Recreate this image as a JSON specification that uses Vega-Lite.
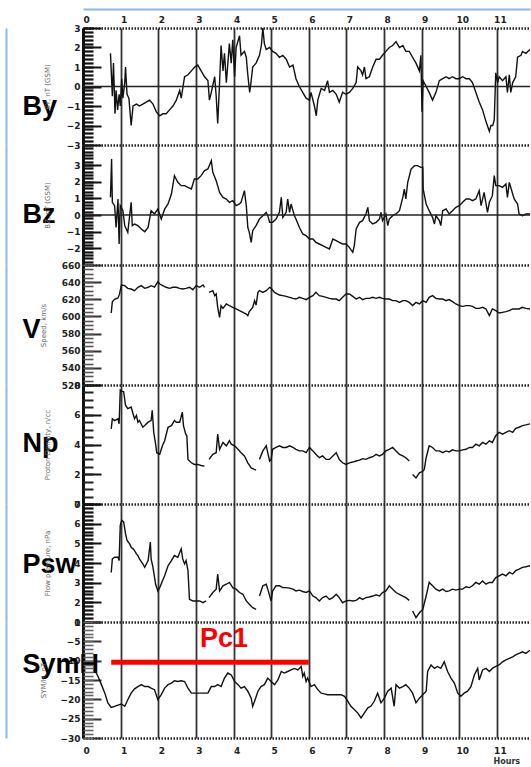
{
"$schema": "https://vega.github.io/schema/vega-lite/v6.json",
"background": "white",
"padding": {"left": 6, "top": 9, "right": 0, "bottom": 0},
"config": {"view": {"stroke": null}, "axis": {"labelFlush": false, "labelOverlap": false, "labelBound": false}},
"spacing": 0,
"bounds": "flush",
"datasets": {
"by": [{"t":0.73,"v":1.7},{"t":0.78,"v":-0.5},{"t":0.81,"v":1.2},{"t":0.85,"v":-1.4},{"t":0.88,"v":-0.2},{"t":0.92,"v":-1.2},{"t":0.96,"v":-0.4},{"t":0.99,"v":-1.0},{"t":1.03,"v":0.4},{"t":1.06,"v":-0.6},{"t":1.11,"v":0.2},{"t":1.13,"v":1.0},{"t":1.17,"v":-0.4},{"t":1.22,"v":-0.6},{"t":1.28,"v":-2.0},{"t":1.33,"v":-1.0},{"t":1.42,"v":-0.9},{"t":1.50,"v":-1.0},{"t":1.59,"v":-0.9},{"t":1.68,"v":-0.8},{"t":1.77,"v":-0.7},{"t":1.86,"v":-0.9},{"t":1.95,"v":-1.3},{"t":2.04,"v":-1.5},{"t":2.12,"v":-1.4},{"t":2.21,"v":-1.4},{"t":2.30,"v":-1.2},{"t":2.39,"v":-1.0},{"t":2.48,"v":-0.7},{"t":2.57,"v":-0.2},{"t":2.61,"v":-0.6},{"t":2.70,"v":0.5},{"t":2.79,"v":0.6},{"t":2.88,"v":0.8},{"t":2.97,"v":1.0},{"t":3.05,"v":1.1},{"t":3.14,"v":0.8},{"t":3.23,"v":0.5},{"t":3.32,"v":0.3},{"t":3.36,"v":-0.7},{"t":3.41,"v":-0.3},{"t":3.50,"v":0.5},{"t":3.54,"v":-0.5},{"t":3.58,"v":-1.9},{"t":3.63,"v":0.2},{"t":3.67,"v":2.1},{"t":3.72,"v":0.8},{"t":3.76,"v":1.7},{"t":3.81,"v":0.2},{"t":3.89,"v":2.2},{"t":3.94,"v":1.2},{"t":3.98,"v":2.4},{"t":4.03,"v":0.5},{"t":4.07,"v":2.0},{"t":4.16,"v":2.6},{"t":4.20,"v":1.6},{"t":4.29,"v":1.8},{"t":4.34,"v":1.5},{"t":4.38,"v":0.6},{"t":4.43,"v":-0.3},{"t":4.47,"v":0.3},{"t":4.51,"v":1.0},{"t":4.60,"v":1.2},{"t":4.69,"v":1.6},{"t":4.74,"v":2.1},{"t":4.78,"v":3.0},{"t":4.82,"v":2.2},{"t":4.87,"v":1.9},{"t":4.96,"v":2.0},{"t":5.04,"v":1.8},{"t":5.13,"v":1.7},{"t":5.22,"v":1.5},{"t":5.31,"v":1.6},{"t":5.40,"v":1.4},{"t":5.49,"v":1.0},{"t":5.58,"v":1.1},{"t":5.66,"v":0.4},{"t":5.75,"v":0.0},{"t":5.84,"v":-0.3},{"t":5.93,"v":-0.6},{"t":6.02,"v":-0.7},{"t":6.06,"v":-0.3},{"t":6.15,"v":-1.0},{"t":6.20,"v":-1.5},{"t":6.24,"v":-0.7},{"t":6.33,"v":-0.1},{"t":6.42,"v":-0.2},{"t":6.50,"v":0.3},{"t":6.55,"v":-0.3},{"t":6.64,"v":-0.2},{"t":6.73,"v":-0.4},{"t":6.81,"v":-0.8},{"t":6.90,"v":-0.3},{"t":6.99,"v":-0.4},{"t":7.08,"v":-0.3},{"t":7.17,"v":-0.1},{"t":7.26,"v":0.2},{"t":7.30,"v":1.0},{"t":7.39,"v":0.8},{"t":7.43,"v":0.6},{"t":7.48,"v":1.0},{"t":7.52,"v":0.4},{"t":7.61,"v":0.5},{"t":7.70,"v":1.0},{"t":7.79,"v":1.4},{"t":7.88,"v":1.4},{"t":7.96,"v":1.6},{"t":8.05,"v":1.8},{"t":8.14,"v":2.0},{"t":8.23,"v":2.1},{"t":8.32,"v":2.3},{"t":8.41,"v":2.0},{"t":8.50,"v":2.1},{"t":8.58,"v":1.8},{"t":8.67,"v":1.8},{"t":8.76,"v":1.5},{"t":8.85,"v":1.2},{"t":8.94,"v":0.8},{"t":8.98,"v":1.6},{"t":9.01,"v":-1.3},{"t":9.04,"v":0.3},{"t":9.12,"v":0.0},{"t":9.20,"v":-0.3},{"t":9.29,"v":-0.7},{"t":9.38,"v":-0.3},{"t":9.47,"v":0.3},{"t":9.56,"v":0.4},{"t":9.65,"v":0.5},{"t":9.73,"v":0.4},{"t":9.82,"v":0.5},{"t":9.91,"v":0.4},{"t":10.00,"v":0.4},{"t":10.09,"v":0.5},{"t":10.18,"v":0.4},{"t":10.27,"v":0.4},{"t":10.35,"v":0.2},{"t":10.44,"v":-0.3},{"t":10.53,"v":-0.8},{"t":10.62,"v":-1.2},{"t":10.71,"v":-1.8},{"t":10.80,"v":-2.3},{"t":10.84,"v":-2.0},{"t":10.89,"v":-2.0},{"t":10.93,"v":-1.7},{"t":10.97,"v":0.7},{"t":11.02,"v":0.2},{"t":11.06,"v":0.5},{"t":11.15,"v":0.3},{"t":11.24,"v":0.5},{"t":11.28,"v":-0.3},{"t":11.33,"v":0.6},{"t":11.37,"v":-0.3},{"t":11.42,"v":0.2},{"t":11.50,"v":0.5},{"t":11.55,"v":1.5},{"t":11.64,"v":1.6},{"t":11.68,"v":1.8},{"t":11.77,"v":1.7},{"t":11.88,"v":1.9}],
"bz": [{"t":0.73,"v":1.06},{"t":0.76,"v":3.36},{"t":0.78,"v":0.76},{"t":0.84,"v":0.56},{"t":0.88,"v":-0.74},{"t":0.93,"v":0.96},{"t":0.96,"v":-1.74},{"t":0.99,"v":0.56},{"t":1.06,"v":0.26},{"t":1.11,"v":-0.64},{"t":1.19,"v":-1.04},{"t":1.28,"v":0.76},{"t":1.31,"v":-0.64},{"t":1.37,"v":-0.54},{"t":1.46,"v":-0.64},{"t":1.55,"v":-0.84},{"t":1.64,"v":-1.0},{"t":1.73,"v":-0.74},{"t":1.81,"v":0.26},{"t":1.90,"v":0.06},{"t":1.99,"v":0.36},{"t":2.08,"v":-0.24},{"t":2.17,"v":0.36},{"t":2.26,"v":0.66},{"t":2.35,"v":1.26},{"t":2.43,"v":2.36},{"t":2.52,"v":1.96},{"t":2.61,"v":1.76},{"t":2.70,"v":1.76},{"t":2.79,"v":1.66},{"t":2.88,"v":1.56},{"t":2.96,"v":2.16},{"t":3.05,"v":2.16},{"t":3.14,"v":2.36},{"t":3.23,"v":2.66},{"t":3.32,"v":2.76},{"t":3.41,"v":3.26},{"t":3.45,"v":2.56},{"t":3.54,"v":2.06},{"t":3.63,"v":1.36},{"t":3.72,"v":1.06},{"t":3.81,"v":0.96},{"t":3.89,"v":0.76},{"t":3.98,"v":0.86},{"t":4.07,"v":0.56},{"t":4.16,"v":0.66},{"t":4.20,"v":0.76},{"t":4.29,"v":1.46},{"t":4.34,"v":0.56},{"t":4.38,"v":-0.74},{"t":4.42,"v":-1.04},{"t":4.47,"v":-1.64},{"t":4.51,"v":-0.94},{"t":4.60,"v":-0.64},{"t":4.69,"v":-0.24},{"t":4.78,"v":-0.04},{"t":4.87,"v":0.16},{"t":4.91,"v":-0.04},{"t":4.96,"v":-0.44},{"t":5.04,"v":-0.44},{"t":5.13,"v":-0.24},{"t":5.22,"v":0.16},{"t":5.27,"v":1.06},{"t":5.31,"v":-0.14},{"t":5.40,"v":0.16},{"t":5.44,"v":0.96},{"t":5.49,"v":0.16},{"t":5.53,"v":0.66},{"t":5.58,"v":0.26},{"t":5.62,"v":-0.04},{"t":5.66,"v":-0.24},{"t":5.75,"v":-0.74},{"t":5.84,"v":-1.14},{"t":5.93,"v":-1.24},{"t":6.02,"v":-1.44},{"t":6.11,"v":-1.44},{"t":6.19,"v":-1.64},{"t":6.28,"v":-1.74},{"t":6.37,"v":-1.84},{"t":6.46,"v":-1.94},{"t":6.55,"v":-2.04},{"t":6.64,"v":-1.44},{"t":6.73,"v":-1.54},{"t":6.81,"v":-1.64},{"t":6.90,"v":-1.74},{"t":6.99,"v":-1.74},{"t":7.08,"v":-1.94},{"t":7.17,"v":-2.24},{"t":7.21,"v":-1.84},{"t":7.26,"v":-0.84},{"t":7.35,"v":-0.44},{"t":7.43,"v":-0.34},{"t":7.52,"v":0.06},{"t":7.57,"v":0.46},{"t":7.61,"v":-0.34},{"t":7.70,"v":-0.54},{"t":7.79,"v":-0.44},{"t":7.88,"v":-0.24},{"t":7.92,"v":0.16},{"t":7.96,"v":-0.34},{"t":8.05,"v":0.06},{"t":8.10,"v":-0.64},{"t":8.14,"v":-0.24},{"t":8.23,"v":-0.04},{"t":8.32,"v":0.06},{"t":8.41,"v":0.26},{"t":8.50,"v":1.06},{"t":8.54,"v":1.56},{"t":8.58,"v":0.96},{"t":8.63,"v":1.96},{"t":8.72,"v":2.76},{"t":8.81,"v":2.96},{"t":8.89,"v":2.96},{"t":8.98,"v":2.86},{"t":9.03,"v":2.86},{"t":9.04,"v":1.56},{"t":9.12,"v":0.66},{"t":9.20,"v":0.26},{"t":9.29,"v":-0.14},{"t":9.34,"v":-0.54},{"t":9.38,"v":-0.04},{"t":9.47,"v":-0.34},{"t":9.51,"v":-0.64},{"t":9.56,"v":0.26},{"t":9.65,"v":0.36},{"t":9.73,"v":0.06},{"t":9.82,"v":0.26},{"t":9.91,"v":0.46},{"t":10.00,"v":0.56},{"t":10.09,"v":0.76},{"t":10.18,"v":0.96},{"t":10.27,"v":0.96},{"t":10.35,"v":0.86},{"t":10.44,"v":0.96},{"t":10.53,"v":1.46},{"t":10.58,"v":0.56},{"t":10.66,"v":1.36},{"t":10.75,"v":0.16},{"t":10.80,"v":0.76},{"t":10.88,"v":1.16},{"t":10.93,"v":2.36},{"t":10.97,"v":1.76},{"t":11.06,"v":1.76},{"t":11.15,"v":1.66},{"t":11.24,"v":1.86},{"t":11.28,"v":1.06},{"t":11.33,"v":1.96},{"t":11.42,"v":1.26},{"t":11.46,"v":0.96},{"t":11.55,"v":0.66},{"t":11.59,"v":0.06},{"t":11.68,"v":-0.04},{"t":11.77,"v":0.06},{"t":11.88,"v":0.06}],
"v": [{"t":0.75,"v":604,"s":1},{"t":0.78,"v":617,"s":1},{"t":0.84,"v":620,"s":1},{"t":0.93,"v":621.5,"s":1},{"t":0.97,"v":626,"s":1},{"t":1.02,"v":636.7,"s":1},{"t":1.11,"v":635.9,"s":1},{"t":1.19,"v":632.8,"s":1},{"t":1.28,"v":632,"s":1},{"t":1.37,"v":630.1,"s":1},{"t":1.46,"v":634,"s":1},{"t":1.55,"v":635.9,"s":1},{"t":1.64,"v":632.8,"s":1},{"t":1.73,"v":634,"s":1},{"t":1.81,"v":635.9,"s":1},{"t":1.90,"v":634.3,"s":1},{"t":1.99,"v":640.6,"s":1},{"t":2.04,"v":637.8,"s":1},{"t":2.12,"v":635.9,"s":1},{"t":2.21,"v":634,"s":1},{"t":2.30,"v":632.8,"s":1},{"t":2.39,"v":634,"s":1},{"t":2.48,"v":634,"s":1},{"t":2.57,"v":632.8,"s":1},{"t":2.65,"v":632,"s":1},{"t":2.74,"v":632.8,"s":1},{"t":2.83,"v":634,"s":1},{"t":2.92,"v":631.2,"s":1},{"t":3.01,"v":635.9,"s":1},{"t":3.10,"v":634,"s":1},{"t":3.19,"v":636.7,"s":1},{"t":3.23,"v":634,"s":1},{"t":3.35,"v":628.1,"s":2},{"t":3.45,"v":630.1,"s":2},{"t":3.50,"v":624.2,"s":2},{"t":3.54,"v":626.2,"s":2},{"t":3.58,"v":610.6,"s":2},{"t":3.63,"v":598.9,"s":2},{"t":3.67,"v":612.6,"s":2},{"t":3.72,"v":609.4,"s":2},{"t":3.81,"v":614.5,"s":2},{"t":3.89,"v":612.6,"s":2},{"t":3.98,"v":610.6,"s":2},{"t":4.07,"v":608.7,"s":2},{"t":4.16,"v":606.7,"s":2},{"t":4.25,"v":604.8,"s":2},{"t":4.34,"v":602.8,"s":2},{"t":4.38,"v":600.9,"s":2},{"t":4.42,"v":605.6,"s":2},{"t":4.51,"v":610.6,"s":2},{"t":4.56,"v":618.4,"s":2},{"t":4.60,"v":613.3,"s":2},{"t":4.65,"v":628.1,"s":2},{"t":4.69,"v":630.1,"s":2},{"t":4.78,"v":628.1,"s":2},{"t":4.87,"v":630.1,"s":2},{"t":4.96,"v":634,"s":2},{"t":5.00,"v":632.8,"s":2},{"t":5.09,"v":628.1,"s":2},{"t":5.22,"v":625,"s":2},{"t":5.31,"v":624.2,"s":2},{"t":5.40,"v":623.4,"s":2},{"t":5.49,"v":622.3,"s":2},{"t":5.58,"v":621.1,"s":2},{"t":5.66,"v":620.3,"s":2},{"t":5.75,"v":622.3,"s":2},{"t":5.84,"v":621.1,"s":2},{"t":5.93,"v":619.6,"s":2},{"t":6.02,"v":622.3,"s":2},{"t":6.11,"v":624.2,"s":2},{"t":6.19,"v":628.1,"s":2},{"t":6.28,"v":624.2,"s":2},{"t":6.37,"v":623.4,"s":2},{"t":6.46,"v":622.3,"s":2},{"t":6.55,"v":621.1,"s":2},{"t":6.64,"v":620.3,"s":2},{"t":6.73,"v":620.3,"s":2},{"t":6.81,"v":618.4,"s":2},{"t":6.90,"v":622.3,"s":2},{"t":6.99,"v":626.2,"s":2},{"t":7.08,"v":626.2,"s":2},{"t":7.17,"v":623.4,"s":2},{"t":7.26,"v":620.3,"s":2},{"t":7.35,"v":622.3,"s":2},{"t":7.43,"v":619.6,"s":2},{"t":7.52,"v":621.1,"s":2},{"t":7.61,"v":621.1,"s":2},{"t":7.70,"v":622.3,"s":2},{"t":7.79,"v":621.1,"s":2},{"t":7.88,"v":622.3,"s":2},{"t":7.96,"v":621.1,"s":2},{"t":8.05,"v":620.3,"s":2},{"t":8.14,"v":620.3,"s":2},{"t":8.23,"v":618.4,"s":2},{"t":8.32,"v":618.4,"s":2},{"t":8.41,"v":616.4,"s":2},{"t":8.50,"v":618.4,"s":2},{"t":8.58,"v":618.4,"s":2},{"t":8.67,"v":616.4,"s":2},{"t":8.76,"v":612.6,"s":2},{"t":8.85,"v":616.4,"s":2},{"t":8.94,"v":614.5,"s":2},{"t":9.03,"v":618.4,"s":2},{"t":9.12,"v":616.4,"s":2},{"t":9.20,"v":622.3,"s":2},{"t":9.29,"v":624.2,"s":2},{"t":9.38,"v":621.1,"s":2},{"t":9.47,"v":620.3,"s":2},{"t":9.56,"v":620.3,"s":2},{"t":9.65,"v":618.4,"s":2},{"t":9.73,"v":619.6,"s":2},{"t":9.82,"v":617.2,"s":2},{"t":9.91,"v":614.5,"s":2},{"t":10.00,"v":612.6,"s":2},{"t":10.09,"v":611.8,"s":2},{"t":10.18,"v":612.6,"s":2},{"t":10.27,"v":612.6,"s":2},{"t":10.35,"v":611.8,"s":2},{"t":10.44,"v":609.4,"s":2},{"t":10.53,"v":609.4,"s":2},{"t":10.62,"v":610.6,"s":2},{"t":10.71,"v":608.7,"s":2},{"t":10.80,"v":600.9,"s":2},{"t":10.88,"v":608.7,"s":2},{"t":10.97,"v":606.7,"s":2},{"t":11.06,"v":604,"s":2},{"t":11.15,"v":604.8,"s":2},{"t":11.24,"v":605.6,"s":2},{"t":11.33,"v":606.7,"s":2},{"t":11.42,"v":608.7,"s":2},{"t":11.50,"v":608.7,"s":2},{"t":11.59,"v":608.7,"s":2},{"t":11.68,"v":610.6,"s":2},{"t":11.77,"v":609.4,"s":2},{"t":11.88,"v":608.7,"s":2}],
"np": [{"t":0.75,"v":5.05,"s":1},{"t":0.78,"v":5.73,"s":1},{"t":0.84,"v":5.61,"s":1},{"t":0.93,"v":5.73,"s":1},{"t":0.96,"v":5.39,"s":1},{"t":0.99,"v":7.66,"s":1},{"t":1.03,"v":7.59,"s":1},{"t":1.08,"v":7.55,"s":1},{"t":1.13,"v":6.64,"s":1},{"t":1.19,"v":6.41,"s":1},{"t":1.28,"v":6.52,"s":1},{"t":1.33,"v":6.07,"s":1},{"t":1.37,"v":5.73,"s":1},{"t":1.42,"v":5.95,"s":1},{"t":1.46,"v":5.5,"s":1},{"t":1.50,"v":5.61,"s":1},{"t":1.59,"v":5.16,"s":1},{"t":1.64,"v":5.27,"s":1},{"t":1.73,"v":5.5,"s":1},{"t":1.81,"v":5.61,"s":1},{"t":1.84,"v":6.3,"s":1},{"t":1.88,"v":4.82,"s":1},{"t":1.93,"v":4.02,"s":1},{"t":1.96,"v":3.45,"s":1},{"t":2.04,"v":3.34,"s":1},{"t":2.11,"v":3.91,"s":1},{"t":2.17,"v":4.25,"s":1},{"t":2.26,"v":5.16,"s":1},{"t":2.35,"v":5.27,"s":1},{"t":2.43,"v":5.61,"s":1},{"t":2.48,"v":5.5,"s":1},{"t":2.57,"v":5.5,"s":1},{"t":2.64,"v":6.18,"s":1},{"t":2.67,"v":5.27,"s":1},{"t":2.73,"v":4.7,"s":1},{"t":2.76,"v":4.59,"s":1},{"t":2.79,"v":3.0,"s":1},{"t":2.88,"v":2.77,"s":1},{"t":2.96,"v":2.66,"s":1},{"t":3.05,"v":2.66,"s":1},{"t":3.14,"v":2.59,"s":1},{"t":3.23,"v":2.55,"s":1},{"t":3.35,"v":3.0,"s":2},{"t":3.45,"v":3.34,"s":2},{"t":3.54,"v":3.45,"s":2},{"t":3.58,"v":4.7,"s":2},{"t":3.63,"v":3.68,"s":2},{"t":3.72,"v":4.14,"s":2},{"t":3.81,"v":3.91,"s":2},{"t":3.89,"v":4.25,"s":2},{"t":3.94,"v":4.02,"s":2},{"t":4.03,"v":3.91,"s":2},{"t":4.12,"v":3.68,"s":2},{"t":4.20,"v":3.45,"s":2},{"t":4.29,"v":3.23,"s":2},{"t":4.38,"v":2.77,"s":2},{"t":4.47,"v":2.43,"s":2},{"t":4.60,"v":2.27,"s":2},{"t":4.69,"v":3.0,"s":3},{"t":4.78,"v":3.57,"s":3},{"t":4.87,"v":3.91,"s":3},{"t":4.91,"v":3.45,"s":3},{"t":4.96,"v":2.89,"s":3},{"t":5.00,"v":3.0,"s":3},{"t":5.04,"v":3.68,"s":3},{"t":5.13,"v":3.8,"s":3},{"t":5.22,"v":3.91,"s":3},{"t":5.31,"v":3.8,"s":3},{"t":5.40,"v":3.8,"s":3},{"t":5.49,"v":3.91,"s":3},{"t":5.58,"v":3.8,"s":3},{"t":5.66,"v":3.68,"s":3},{"t":5.75,"v":3.57,"s":3},{"t":5.84,"v":3.57,"s":3},{"t":5.93,"v":3.45,"s":3},{"t":6.02,"v":3.8,"s":3},{"t":6.11,"v":3.57,"s":3},{"t":6.19,"v":3.34,"s":3},{"t":6.28,"v":3.11,"s":3},{"t":6.37,"v":3.23,"s":3},{"t":6.46,"v":3.0,"s":3},{"t":6.55,"v":3.0,"s":3},{"t":6.64,"v":3.23,"s":3},{"t":6.73,"v":3.45,"s":3},{"t":6.81,"v":3.0,"s":3},{"t":6.90,"v":2.77,"s":3},{"t":6.99,"v":2.66,"s":3},{"t":7.08,"v":2.77,"s":3},{"t":7.17,"v":2.82,"s":3},{"t":7.26,"v":2.89,"s":3},{"t":7.35,"v":2.95,"s":3},{"t":7.43,"v":3.05,"s":3},{"t":7.52,"v":3.0,"s":3},{"t":7.61,"v":3.11,"s":3},{"t":7.70,"v":3.18,"s":3},{"t":7.79,"v":3.34,"s":3},{"t":7.88,"v":3.23,"s":3},{"t":7.96,"v":3.34,"s":3},{"t":8.05,"v":3.57,"s":3},{"t":8.14,"v":3.68,"s":3},{"t":8.23,"v":3.8,"s":3},{"t":8.32,"v":3.57,"s":3},{"t":8.41,"v":3.34,"s":3},{"t":8.50,"v":3.23,"s":3},{"t":8.58,"v":3.11,"s":3},{"t":8.67,"v":2.89,"s":3},{"t":8.76,"v":1.98,"s":4},{"t":8.85,"v":1.75,"s":4},{"t":8.94,"v":2.09,"s":4},{"t":9.03,"v":2.2,"s":4},{"t":9.07,"v":2.32,"s":4},{"t":9.12,"v":3.11,"s":4},{"t":9.20,"v":3.91,"s":4},{"t":9.29,"v":3.8,"s":4},{"t":9.38,"v":3.57,"s":4},{"t":9.47,"v":3.57,"s":4},{"t":9.56,"v":3.45,"s":4},{"t":9.65,"v":3.57,"s":4},{"t":9.73,"v":3.5,"s":4},{"t":9.82,"v":3.64,"s":4},{"t":9.91,"v":3.57,"s":4},{"t":10.00,"v":3.57,"s":4},{"t":10.09,"v":3.64,"s":4},{"t":10.18,"v":3.68,"s":4},{"t":10.27,"v":3.8,"s":4},{"t":10.35,"v":3.8,"s":4},{"t":10.44,"v":4.02,"s":4},{"t":10.53,"v":3.91,"s":4},{"t":10.62,"v":4.14,"s":4},{"t":10.71,"v":4.02,"s":4},{"t":10.80,"v":4.25,"s":4},{"t":10.88,"v":4.14,"s":4},{"t":10.97,"v":4.59,"s":4},{"t":11.06,"v":4.82,"s":4},{"t":11.15,"v":4.7,"s":4},{"t":11.24,"v":4.82,"s":4},{"t":11.33,"v":4.93,"s":4},{"t":11.42,"v":4.82,"s":4},{"t":11.50,"v":5.09,"s":4},{"t":11.59,"v":5.16,"s":4},{"t":11.68,"v":5.27,"s":4},{"t":11.77,"v":5.32,"s":4},{"t":11.88,"v":5.39,"s":4}],
"psw": [{"t":0.75,"v":3.52,"s":1},{"t":0.78,"v":4.21,"s":1},{"t":0.84,"v":4.29,"s":1},{"t":0.93,"v":4.29,"s":1},{"t":0.96,"v":4.12,"s":1},{"t":0.99,"v":5.91,"s":1},{"t":1.03,"v":6.17,"s":1},{"t":1.08,"v":6.09,"s":1},{"t":1.13,"v":5.49,"s":1},{"t":1.17,"v":5.15,"s":1},{"t":1.24,"v":4.97,"s":1},{"t":1.28,"v":4.8,"s":1},{"t":1.33,"v":4.72,"s":1},{"t":1.37,"v":4.63,"s":1},{"t":1.42,"v":4.46,"s":1},{"t":1.46,"v":4.38,"s":1},{"t":1.50,"v":4.21,"s":1},{"t":1.59,"v":3.95,"s":1},{"t":1.64,"v":3.78,"s":1},{"t":1.73,"v":4.12,"s":1},{"t":1.79,"v":5.06,"s":1},{"t":1.81,"v":4.21,"s":1},{"t":1.86,"v":3.78,"s":1},{"t":1.93,"v":2.92,"s":1},{"t":1.99,"v":2.58,"s":1},{"t":2.04,"v":2.75,"s":1},{"t":2.11,"v":3.09,"s":1},{"t":2.17,"v":3.35,"s":1},{"t":2.26,"v":3.86,"s":1},{"t":2.35,"v":4.12,"s":1},{"t":2.43,"v":4.38,"s":1},{"t":2.52,"v":4.29,"s":1},{"t":2.61,"v":4.72,"s":1},{"t":2.65,"v":4.21,"s":1},{"t":2.70,"v":3.95,"s":1},{"t":2.74,"v":4.12,"s":1},{"t":2.79,"v":3.61,"s":1},{"t":2.83,"v":2.15,"s":1},{"t":2.92,"v":2.07,"s":1},{"t":3.01,"v":2.07,"s":1},{"t":3.10,"v":2.07,"s":1},{"t":3.19,"v":1.98,"s":1},{"t":3.27,"v":2.07,"s":1},{"t":3.35,"v":2.24,"s":2},{"t":3.45,"v":2.5,"s":2},{"t":3.54,"v":2.67,"s":2},{"t":3.58,"v":3.44,"s":2},{"t":3.63,"v":2.58,"s":2},{"t":3.72,"v":2.84,"s":2},{"t":3.81,"v":2.92,"s":2},{"t":3.89,"v":3.01,"s":2},{"t":3.98,"v":2.75,"s":2},{"t":4.07,"v":2.67,"s":2},{"t":4.16,"v":2.5,"s":2},{"t":4.25,"v":2.41,"s":2},{"t":4.34,"v":2.07,"s":2},{"t":4.42,"v":1.9,"s":2},{"t":4.51,"v":1.73,"s":2},{"t":4.60,"v":1.64,"s":2},{"t":4.69,"v":2.32,"s":3},{"t":4.78,"v":2.84,"s":3},{"t":4.87,"v":2.92,"s":3},{"t":4.91,"v":2.67,"s":3},{"t":5.00,"v":2.07,"s":3},{"t":5.04,"v":2.58,"s":3},{"t":5.13,"v":2.84,"s":3},{"t":5.22,"v":2.84,"s":3},{"t":5.31,"v":2.75,"s":3},{"t":5.40,"v":2.75,"s":3},{"t":5.49,"v":2.72,"s":3},{"t":5.58,"v":2.67,"s":3},{"t":5.66,"v":2.58,"s":3},{"t":5.75,"v":2.62,"s":3},{"t":5.84,"v":2.55,"s":3},{"t":5.93,"v":2.5,"s":3},{"t":6.02,"v":2.58,"s":3},{"t":6.11,"v":2.32,"s":3},{"t":6.19,"v":2.24,"s":3},{"t":6.28,"v":2.07,"s":3},{"t":6.37,"v":2.24,"s":3},{"t":6.46,"v":2.32,"s":3},{"t":6.55,"v":2.15,"s":3},{"t":6.64,"v":2.24,"s":3},{"t":6.73,"v":2.41,"s":3},{"t":6.81,"v":2.24,"s":3},{"t":6.90,"v":1.98,"s":3},{"t":6.99,"v":2.07,"s":3},{"t":7.08,"v":2.1,"s":3},{"t":7.17,"v":2.07,"s":3},{"t":7.26,"v":2.1,"s":3},{"t":7.35,"v":2.24,"s":3},{"t":7.43,"v":2.15,"s":3},{"t":7.52,"v":2.24,"s":3},{"t":7.61,"v":2.27,"s":3},{"t":7.70,"v":2.32,"s":3},{"t":7.79,"v":2.38,"s":3},{"t":7.88,"v":2.32,"s":3},{"t":7.96,"v":2.5,"s":3},{"t":8.05,"v":2.58,"s":3},{"t":8.14,"v":2.84,"s":3},{"t":8.23,"v":2.67,"s":3},{"t":8.32,"v":2.5,"s":3},{"t":8.41,"v":2.41,"s":3},{"t":8.50,"v":2.32,"s":3},{"t":8.58,"v":2.24,"s":3},{"t":8.67,"v":2.1,"s":3},{"t":8.76,"v":1.56,"s":4},{"t":8.85,"v":1.22,"s":4},{"t":8.94,"v":1.47,"s":4},{"t":9.03,"v":1.64,"s":4},{"t":9.12,"v":2.32,"s":4},{"t":9.20,"v":3.01,"s":4},{"t":9.29,"v":2.84,"s":4},{"t":9.38,"v":2.67,"s":4},{"t":9.47,"v":2.58,"s":4},{"t":9.56,"v":2.67,"s":4},{"t":9.65,"v":2.55,"s":4},{"t":9.73,"v":2.58,"s":4},{"t":9.82,"v":2.67,"s":4},{"t":9.91,"v":2.62,"s":4},{"t":10.00,"v":2.67,"s":4},{"t":10.09,"v":2.67,"s":4},{"t":10.18,"v":2.79,"s":4},{"t":10.27,"v":2.75,"s":4},{"t":10.35,"v":2.84,"s":4},{"t":10.44,"v":3.01,"s":4},{"t":10.53,"v":2.92,"s":4},{"t":10.62,"v":3.09,"s":4},{"t":10.71,"v":2.92,"s":4},{"t":10.80,"v":3.01,"s":4},{"t":10.88,"v":3.01,"s":4},{"t":10.97,"v":3.26,"s":4},{"t":11.06,"v":3.35,"s":4},{"t":11.15,"v":3.44,"s":4},{"t":11.24,"v":3.35,"s":4},{"t":11.33,"v":3.52,"s":4},{"t":11.42,"v":3.44,"s":4},{"t":11.50,"v":3.61,"s":4},{"t":11.59,"v":3.69,"s":4},{"t":11.68,"v":3.78,"s":4},{"t":11.77,"v":3.81,"s":4},{"t":11.88,"v":3.86,"s":4}],
"symh": [{"t":0.31,"v":-12.4},{"t":0.40,"v":-14.1},{"t":0.49,"v":-16.2},{"t":0.58,"v":-18.4},{"t":0.66,"v":-20.9},{"t":0.75,"v":-22.1},{"t":0.84,"v":-21.8},{"t":0.93,"v":-21.5},{"t":1.02,"v":-21.2},{"t":1.11,"v":-21.8},{"t":1.19,"v":-20.1},{"t":1.28,"v":-18.4},{"t":1.37,"v":-17.3},{"t":1.46,"v":-16.7},{"t":1.55,"v":-16.2},{"t":1.64,"v":-16.7},{"t":1.73,"v":-16.7},{"t":1.81,"v":-17.1},{"t":1.90,"v":-17.5},{"t":1.99,"v":-20.1},{"t":2.08,"v":-18.8},{"t":2.17,"v":-17.1},{"t":2.26,"v":-16.2},{"t":2.35,"v":-15.8},{"t":2.43,"v":-15.2},{"t":2.52,"v":-15.4},{"t":2.61,"v":-15.2},{"t":2.70,"v":-15.4},{"t":2.79,"v":-17.1},{"t":2.88,"v":-18.4},{"t":2.96,"v":-18.4},{"t":3.05,"v":-18.4},{"t":3.14,"v":-18.4},{"t":3.23,"v":-18.4},{"t":3.32,"v":-18.4},{"t":3.41,"v":-16.7},{"t":3.50,"v":-16.7},{"t":3.58,"v":-16.2},{"t":3.67,"v":-16.7},{"t":3.76,"v":-14.5},{"t":3.85,"v":-13.2},{"t":3.94,"v":-13.7},{"t":4.03,"v":-15.4},{"t":4.12,"v":-16.2},{"t":4.20,"v":-17.1},{"t":4.29,"v":-16.7},{"t":4.38,"v":-17.9},{"t":4.47,"v":-19.7},{"t":4.51,"v":-21.8},{"t":4.56,"v":-20.5},{"t":4.65,"v":-17.9},{"t":4.73,"v":-16.7},{"t":4.82,"v":-16.2},{"t":4.91,"v":-14.5},{"t":5.00,"v":-15.4},{"t":5.09,"v":-16.2},{"t":5.18,"v":-15.0},{"t":5.27,"v":-12.8},{"t":5.35,"v":-13.2},{"t":5.44,"v":-12.8},{"t":5.53,"v":-12.4},{"t":5.62,"v":-12.0},{"t":5.71,"v":-12.4},{"t":5.80,"v":-11.5},{"t":5.84,"v":-14.1},{"t":5.88,"v":-13.2},{"t":5.93,"v":-15.4},{"t":5.97,"v":-14.5},{"t":6.06,"v":-16.7},{"t":6.15,"v":-16.2},{"t":6.24,"v":-17.5},{"t":6.33,"v":-18.4},{"t":6.42,"v":-18.6},{"t":6.50,"v":-18.8},{"t":6.59,"v":-18.8},{"t":6.68,"v":-18.8},{"t":6.77,"v":-18.8},{"t":6.86,"v":-18.8},{"t":6.95,"v":-19.2},{"t":7.04,"v":-20.5},{"t":7.12,"v":-21.8},{"t":7.21,"v":-22.6},{"t":7.30,"v":-23.5},{"t":7.39,"v":-24.8},{"t":7.48,"v":-23.5},{"t":7.57,"v":-22.2},{"t":7.65,"v":-21.8},{"t":7.74,"v":-20.5},{"t":7.83,"v":-18.4},{"t":7.92,"v":-20.9},{"t":8.01,"v":-19.7},{"t":8.10,"v":-17.9},{"t":8.19,"v":-17.1},{"t":8.27,"v":-21.8},{"t":8.32,"v":-16.2},{"t":8.41,"v":-17.1},{"t":8.50,"v":-16.7},{"t":8.58,"v":-16.2},{"t":8.67,"v":-17.1},{"t":8.76,"v":-18.4},{"t":8.85,"v":-20.9},{"t":8.94,"v":-19.7},{"t":9.03,"v":-18.8},{"t":9.12,"v":-17.9},{"t":9.16,"v":-12.8},{"t":9.25,"v":-11.1},{"t":9.34,"v":-12.0},{"t":9.42,"v":-11.5},{"t":9.51,"v":-12.0},{"t":9.60,"v":-10.3},{"t":9.69,"v":-12.8},{"t":9.78,"v":-14.5},{"t":9.87,"v":-15.8},{"t":9.96,"v":-18.4},{"t":10.04,"v":-19.2},{"t":10.13,"v":-18.4},{"t":10.22,"v":-17.9},{"t":10.31,"v":-16.7},{"t":10.40,"v":-13.7},{"t":10.49,"v":-12.0},{"t":10.53,"v":-15.0},{"t":10.62,"v":-12.4},{"t":10.71,"v":-12.0},{"t":10.80,"v":-12.8},{"t":10.88,"v":-12.0},{"t":10.97,"v":-11.5},{"t":11.06,"v":-11.1},{"t":11.15,"v":-10.3},{"t":11.24,"v":-9.8},{"t":11.33,"v":-9.4},{"t":11.42,"v":-9.0},{"t":11.50,"v":-8.5},{"t":11.59,"v":-8.1},{"t":11.68,"v":-7.7},{"t":11.77,"v":-8.1},{"t":11.88,"v":-7.3}]
},
"vconcat": [
{
 "width": 447, "height": 117,
 "layer": [
  {"data": {"name": "by"}, "mark": {"type": "line", "color": "#111", "strokeWidth": 1.4, "clip": true},
   "encoding": {
    "x": {"field": "t", "type": "quantitative", "scale": {"domain": [0, 11.88], "nice": false, "zero": false},
      "axis": {"orient": "top", "values": [0,1,2,3,4,5,6,7,8,9,10,11], "grid": true, "gridColor": "#333", "gridWidth": 1.8, "ticks": false, "labels": true, "labelFont": "DejaVu Sans", "labelFontSize": 9, "labelFontWeight": "bold", "labelColor": "#222", "labelPadding": 4, "labelOffset": 3, "domain": true, "domainColor": "#222", "domainWidth": 2.5, "domainDash": [1.5, 1.5], "title": null}},
    "y": {"field": "v", "type": "quantitative", "scale": {"domain": [-3, 3], "nice": false, "zero": false},
      "axis": {"orient": "left", "values": [-3,-2,-1,0,1,2,3], "tickSize": -18, "tickWidth": 2, "tickColor": "#111", "domain": true, "domainColor": "#111", "domainWidth": 3, "labelFont": "DejaVu Sans", "labelFontSize": 9, "labelFontWeight": "bold", "labelColor": "#222", "labelPadding": 21, "grid": false,
        "title": "By", "titleAngle": 0, "titleAlign": "left", "titleBaseline": "alphabetic", "titleX": -61, "titleY": 86, "titleFont": "Liberation Sans", "titleFontSize": 27, "titleFontWeight": "bold", "titleColor": "#000"}}
   }},
  {"data": {"values": [{"v": 0}]}, "mark": {"type": "rule", "color": "#222", "strokeWidth": 1.5},
   "encoding": {"y": {"field": "v", "type": "quantitative", "scale": {"domain": [-3, 3], "nice": false, "zero": false},
      "axis": {"orient": "left", "values": [-3,-2.8,-2.6,-2.4,-2.2,-2,-1.8,-1.6,-1.4,-1.2,-1,-0.8,-0.6,-0.4,-0.2,0,0.2,0.4,0.6,0.8,1,1.2,1.4,1.6,1.8,2,2.2,2.4,2.6,2.8,3], "tickSize": -10, "tickWidth": 2.2, "tickColor": "#111", "labels": false, "domain": false, "grid": false,
        "title": "BY, nT (GSM)", "titleX": -36, "titleBaseline": "middle", "titleFont": "DejaVu Sans", "titleFontSize": 7, "titleFontWeight": "normal", "titleColor": "#666"}}}},
  {"data": {"values": [{"t": 0, "v": -3}]}, "mark": {"type": "point", "opacity": 0},
   "encoding": {
    "x": {"field": "t", "type": "quantitative", "scale": {"domain": [0, 11.88], "nice": false, "zero": false},
      "axis": {"orient": "top", "offset": 19, "domain": true, "domainColor": "#8db8e6", "domainWidth": 2, "ticks": false, "labels": false, "grid": false, "title": null}},
    "y": {"field": "v", "type": "quantitative", "scale": {"domain": [-3, 3], "nice": false, "zero": false},
      "axis": {"orient": "left", "offset": 77, "domain": true, "domainColor": "#8db8e6", "domainWidth": 2, "ticks": false, "labels": false, "grid": false, "title": null}}}}
 ],
 "resolve": {"axis": {"x": "independent", "y": "independent"}}
},
{
 "width": 447, "height": 120,
 "layer": [
  {"data": {"name": "bz"}, "mark": {"type": "line", "color": "#111", "strokeWidth": 1.4, "clip": true},
   "encoding": {
    "x": {"field": "t", "type": "quantitative", "scale": {"domain": [0, 11.88], "nice": false, "zero": false},
      "axis": {"orient": "top", "values": [0,1,2,3,4,5,6,7,8,9,10,11], "grid": true, "gridColor": "#333", "gridWidth": 1.8, "ticks": false, "labels": false, "domain": true, "domainColor": "#222", "domainWidth": 2.5, "domainDash": [1.5, 1.5], "title": null}},
    "y": {"field": "v", "type": "quantitative", "scale": {"domain": [-3, 4.2], "nice": false, "zero": false},
      "axis": {"orient": "left", "values": [-2,-1,0,1,2,3], "tickSize": -18, "tickWidth": 2, "tickColor": "#111", "domain": true, "domainColor": "#111", "domainWidth": 3, "labelFont": "DejaVu Sans", "labelFontSize": 9, "labelFontWeight": "bold", "labelColor": "#222", "labelPadding": 21, "grid": false,
        "title": "Bz", "titleAngle": 0, "titleAlign": "left", "titleBaseline": "alphabetic", "titleX": -61, "titleY": 77, "titleFont": "Liberation Sans", "titleFontSize": 27, "titleFontWeight": "bold", "titleColor": "#000"}}
   }},
  {"data": {"values": [{"v": 0}]}, "mark": {"type": "rule", "color": "#222", "strokeWidth": 1.5},
   "encoding": {"y": {"field": "v", "type": "quantitative", "scale": {"domain": [-3, 4.2], "nice": false, "zero": false},
      "axis": {"orient": "left", "values": [-3,-2.8,-2.6,-2.4,-2.2,-2,-1.8,-1.6,-1.4,-1.2,-1,-0.8,-0.6,-0.4,-0.2,0,0.2,0.4,0.6,0.8,1,1.2,1.4,1.6,1.8,2,2.2,2.4,2.6,2.8,3,3.2,3.4,3.6,3.8,4], "tickSize": -10, "tickWidth": 2.2, "tickColor": "#111", "labels": false, "domain": false, "grid": false,
        "title": "BZ, nT (GSM)", "titleX": -36, "titleBaseline": "middle", "titleFont": "DejaVu Sans", "titleFontSize": 7, "titleFontWeight": "normal", "titleColor": "#666"}}}},
  {"data": {"values": [{"t": 0, "v": -3}]}, "mark": {"type": "point", "opacity": 0},
   "encoding": {
    "x": {"field": "t", "type": "quantitative", "scale": {"domain": [0, 11.88], "nice": false, "zero": false}, "axis": null},
    "y": {"field": "v", "type": "quantitative", "scale": {"domain": [-3, 4.2], "nice": false, "zero": false},
      "axis": {"orient": "left", "offset": 77, "domain": true, "domainColor": "#8db8e6", "domainWidth": 2, "ticks": false, "labels": false, "grid": false, "title": null}}}}
 ],
 "resolve": {"axis": {"x": "independent", "y": "independent"}}
},
{
 "width": 447, "height": 120,
 "layer": [
  {"data": {"name": "v"}, "mark": {"type": "line", "color": "#111", "strokeWidth": 1.4, "clip": true},
   "encoding": {
    "x": {"field": "t", "type": "quantitative", "scale": {"domain": [0, 11.88], "nice": false, "zero": false},
      "axis": {"orient": "top", "values": [0,1,2,3,4,5,6,7,8,9,10,11], "grid": true, "gridColor": "#333", "gridWidth": 1.8, "ticks": false, "labels": false, "domain": true, "domainColor": "#222", "domainWidth": 2.5, "domainDash": [1.5, 1.5], "title": null}},
    "y": {"field": "v", "type": "quantitative", "scale": {"domain": [520, 660], "nice": false, "zero": false},
      "axis": {"orient": "left", "values": [520,540,560,580,600,620,640,660], "tickSize": -18, "tickWidth": 2, "tickColor": "#333", "domain": true, "domainColor": "#111", "domainWidth": 3, "labelFont": "DejaVu Sans", "labelFontSize": 9, "labelFontWeight": "bold", "labelColor": "#222", "labelPadding": 21, "grid": false,
        "title": "V", "titleAngle": 0, "titleAlign": "left", "titleBaseline": "alphabetic", "titleX": -61, "titleY": 72, "titleFont": "Liberation Sans", "titleFontSize": 27, "titleFontWeight": "bold", "titleColor": "#000"}},
    "detail": {"field": "s", "type": "nominal"}
   }},
  {"data": {"values": [{"v": 520}]}, "mark": {"type": "rule", "strokeOpacity": 0},
   "encoding": {"y": {"field": "v", "type": "quantitative", "scale": {"domain": [520, 660], "nice": false, "zero": false},
      "axis": {"orient": "left", "values": [520,525,530,535,540,545,550,555,560,565,570,575,580,585,590,595,600,605,610,615,620,625,630,635,640,645,650,655,660], "tickSize": -10, "tickWidth": 1.6, "tickColor": "#555", "labels": false, "domain": false, "grid": false,
        "title": "Speed, km/s", "titleX": -40, "titleBaseline": "middle", "titleFont": "DejaVu Sans", "titleFontSize": 7, "titleFontWeight": "normal", "titleColor": "#666"}}}},
  {"data": {"values": [{"t": 0, "v": 520}]}, "mark": {"type": "point", "opacity": 0},
   "encoding": {
    "x": {"field": "t", "type": "quantitative", "scale": {"domain": [0, 11.88], "nice": false, "zero": false}, "axis": null},
    "y": {"field": "v", "type": "quantitative", "scale": {"domain": [520, 660], "nice": false, "zero": false},
      "axis": {"orient": "left", "offset": 77, "domain": true, "domainColor": "#8db8e6", "domainWidth": 2, "ticks": false, "labels": false, "grid": false, "title": null}}}}
 ],
 "resolve": {"axis": {"x": "independent", "y": "independent"}}
},
{
 "width": 447, "height": 119,
 "layer": [
  {"data": {"name": "np"}, "mark": {"type": "line", "color": "#111", "strokeWidth": 1.4, "clip": true},
   "encoding": {
    "x": {"field": "t", "type": "quantitative", "scale": {"domain": [0, 11.88], "nice": false, "zero": false},
      "axis": {"orient": "top", "values": [0,1,2,3,4,5,6,7,8,9,10,11], "grid": true, "gridColor": "#333", "gridWidth": 1.8, "ticks": false, "labels": false, "domain": true, "domainColor": "#222", "domainWidth": 2.5, "domainDash": [1.5, 1.5], "title": null}},
    "y": {"field": "v", "type": "quantitative", "scale": {"domain": [0, 8], "nice": false, "zero": false},
      "axis": {"orient": "left", "values": [0,2,4,6,8], "tickSize": -18, "tickWidth": 2, "tickColor": "#111", "domain": true, "domainColor": "#111", "domainWidth": 3, "labelFont": "DejaVu Sans", "labelFontSize": 9, "labelFontWeight": "bold", "labelColor": "#222", "labelPadding": 21, "grid": false,
        "title": "Np", "titleAngle": 0, "titleAlign": "left", "titleBaseline": "alphabetic", "titleX": -61, "titleY": 66, "titleFont": "Liberation Sans", "titleFontSize": 27, "titleFontWeight": "bold", "titleColor": "#000"}},
    "detail": {"field": "s", "type": "nominal"}
   }},
  {"data": {"values": [{"v": 0}]}, "mark": {"type": "rule", "strokeOpacity": 0},
   "encoding": {"y": {"field": "v", "type": "quantitative", "scale": {"domain": [0, 8], "nice": false, "zero": false},
      "axis": {"orient": "left", "values": [0,0.5,1,1.5,2,2.5,3,3.5,4,4.5,5,5.5,6,6.5,7,7.5,8], "tickSize": -10, "tickWidth": 2, "tickColor": "#222", "labels": false, "domain": false, "grid": false,
        "title": "Proton Density, n/cc", "titleX": -36, "titleBaseline": "middle", "titleFont": "DejaVu Sans", "titleFontSize": 7, "titleFontWeight": "normal", "titleColor": "#666"}}}},
  {"data": {"values": [{"t": 0, "v": 0}]}, "mark": {"type": "point", "opacity": 0},
   "encoding": {
    "x": {"field": "t", "type": "quantitative", "scale": {"domain": [0, 11.88], "nice": false, "zero": false}, "axis": null},
    "y": {"field": "v", "type": "quantitative", "scale": {"domain": [0, 8], "nice": false, "zero": false},
      "axis": {"orient": "left", "offset": 77, "domain": true, "domainColor": "#8db8e6", "domainWidth": 2, "ticks": false, "labels": false, "grid": false, "title": null}}}}
 ],
 "resolve": {"axis": {"x": "independent", "y": "independent"}}
},
{
 "width": 447, "height": 118,
 "layer": [
  {"data": {"name": "psw"}, "mark": {"type": "line", "color": "#111", "strokeWidth": 1.4, "clip": true},
   "encoding": {
    "x": {"field": "t", "type": "quantitative", "scale": {"domain": [0, 11.88], "nice": false, "zero": false},
      "axis": {"orient": "top", "values": [0,1,2,3,4,5,6,7,8,9,10,11], "grid": true, "gridColor": "#333", "gridWidth": 1.8, "ticks": false, "labels": false, "domain": true, "domainColor": "#222", "domainWidth": 2.5, "domainDash": [1.5, 1.5], "title": null}},
    "y": {"field": "v", "type": "quantitative", "scale": {"domain": [1, 7], "nice": false, "zero": false},
      "axis": {"orient": "left", "values": [1,2,3,4,5,6,7], "tickSize": -18, "tickWidth": 2, "tickColor": "#111", "domain": true, "domainColor": "#111", "domainWidth": 3, "labelFont": "DejaVu Sans", "labelFontSize": 9, "labelFontWeight": "bold", "labelColor": "#222", "labelPadding": 21, "grid": false,
        "title": "Psw", "titleAngle": 0, "titleAlign": "left", "titleBaseline": "alphabetic", "titleX": -61, "titleY": 68, "titleFont": "Liberation Sans", "titleFontSize": 27, "titleFontWeight": "bold", "titleColor": "#000"}},
    "detail": {"field": "s", "type": "nominal"}
   }},
  {"data": {"values": [{"v": 1}]}, "mark": {"type": "rule", "strokeOpacity": 0},
   "encoding": {"y": {"field": "v", "type": "quantitative", "scale": {"domain": [1, 7], "nice": false, "zero": false},
      "axis": {"orient": "left", "values": [1,1.2,1.4,1.6,1.8,2,2.2,2.4,2.6,2.8,3,3.2,3.4,3.6,3.8,4,4.2,4.4,4.6,4.8,5,5.2,5.4,5.6,5.8,6,6.2,6.4,6.6,6.8,7], "tickSize": -10, "tickWidth": 2.2, "tickColor": "#111", "labels": false, "domain": false, "grid": false,
        "title": "Flow pressure, nPa", "titleX": -36, "titleBaseline": "middle", "titleFont": "DejaVu Sans", "titleFontSize": 7, "titleFontWeight": "normal", "titleColor": "#666"}}}},
  {"data": {"values": [{"t": 0, "v": 1}]}, "mark": {"type": "point", "opacity": 0},
   "encoding": {
    "x": {"field": "t", "type": "quantitative", "scale": {"domain": [0, 11.88], "nice": false, "zero": false}, "axis": null},
    "y": {"field": "v", "type": "quantitative", "scale": {"domain": [1, 7], "nice": false, "zero": false},
      "axis": {"orient": "left", "offset": 77, "domain": true, "domainColor": "#8db8e6", "domainWidth": 2, "ticks": false, "labels": false, "grid": false, "title": null}}}}
 ],
 "resolve": {"axis": {"x": "independent", "y": "independent"}}
},
{
 "width": 447, "height": 116,
 "layer": [
  {"data": {"name": "symh"}, "mark": {"type": "line", "color": "#111", "strokeWidth": 1.4, "clip": true},
   "encoding": {
    "x": {"field": "t", "type": "quantitative", "scale": {"domain": [0, 11.88], "nice": false, "zero": false},
      "axis": {"orient": "top", "values": [0,1,2,3,4,5,6,7,8,9,10,11], "grid": true, "gridColor": "#333", "gridWidth": 1.8, "ticks": false, "labels": false, "domain": true, "domainColor": "#222", "domainWidth": 2.5, "domainDash": [1.5, 1.5], "title": null}},
    "y": {"field": "v", "type": "quantitative", "scale": {"domain": [-30, 0], "nice": false, "zero": false},
      "axis": {"orient": "left", "values": [-30,-25,-20,-15,-10,-5,0], "tickSize": -18, "tickWidth": 2, "tickColor": "#333", "domain": true, "domainColor": "#111", "domainWidth": 3, "labelFont": "DejaVu Sans", "labelFontSize": 9, "labelFontWeight": "bold", "labelColor": "#222", "labelPadding": 21, "grid": false,
        "title": "SymH", "titleAngle": 0, "titleAlign": "left", "titleBaseline": "alphabetic", "titleX": -61, "titleY": 50, "titleFont": "Liberation Sans", "titleFontSize": 27, "titleFontWeight": "bold", "titleColor": "#000"}}
   }},
  {"data": {"values": [{"v": -30}]}, "mark": {"type": "rule", "strokeOpacity": 0},
   "encoding": {"y": {"field": "v", "type": "quantitative", "scale": {"domain": [-30, 0], "nice": false, "zero": false},
      "axis": {"orient": "left", "values": [-30,-29,-28,-27,-26,-25,-24,-23,-22,-21,-20,-19,-18,-17,-16,-15,-14,-13,-12,-11,-10,-9,-8,-7,-6,-5,-4,-3,-2,-1,0], "tickSize": -10, "tickWidth": 1.6, "tickColor": "#666", "labels": false, "domain": false, "grid": false,
        "title": "SYM/H, nT", "titleX": -40, "titleBaseline": "middle", "titleFont": "DejaVu Sans", "titleFontSize": 7, "titleFontWeight": "normal", "titleColor": "#666"}}}},
  {"data": {"values": [{"start": 0.75, "end": 6.0, "level": -10.4}]}, "mark": {"type": "rule", "color": "#ff0000", "strokeWidth": 5},
   "encoding": {
    "x": {"field": "start", "type": "quantitative", "scale": {"domain": [0, 11.88], "nice": false, "zero": false},
      "axis": {"orient": "bottom", "values": [0,1,2,3,4,5,6,7,8,9,10,11], "grid": false, "ticks": false, "labels": true, "labelFont": "DejaVu Sans", "labelFontSize": 9, "labelFontWeight": "bold", "labelColor": "#222", "labelPadding": 8, "labelOffset": 3, "domain": true, "domainColor": "#222", "domainWidth": 2.5, "domainDash": [1.5, 1.5],
        "title": "Hours", "titleX": 410, "titleY": 25, "titleAlign": "left", "titleBaseline": "alphabetic", "titleFont": "DejaVu Sans", "titleFontSize": 8, "titleFontWeight": "bold", "titleColor": "#333"}},
    "x2": {"field": "end"},
    "y": {"field": "level", "type": "quantitative", "scale": {"domain": [-30, 0], "nice": false, "zero": false}, "axis": null}
   }},
  {"data": {"values": [{"t": 3.75, "v": -4.4, "label": "Pc1"}]}, "mark": {"type": "text", "color": "#ff0000", "font": "Liberation Sans", "fontSize": 27, "fontWeight": "bold", "align": "center", "baseline": "middle"},
   "encoding": {
    "x": {"field": "t", "type": "quantitative", "scale": {"domain": [0, 11.88], "nice": false, "zero": false}, "axis": null},
    "y": {"field": "v", "type": "quantitative", "scale": {"domain": [-30, 0], "nice": false, "zero": false}, "axis": null},
    "text": {"field": "label"}
   }},
  {"data": {"values": [{"t": 0, "v": -30}]}, "mark": {"type": "point", "opacity": 0},
   "encoding": {
    "x": {"field": "t", "type": "quantitative", "scale": {"domain": [0, 11.88], "nice": false, "zero": false}, "axis": null},
    "y": {"field": "v", "type": "quantitative", "scale": {"domain": [-30, 0], "nice": false, "zero": false},
      "axis": {"orient": "left", "offset": 77, "domain": true, "domainColor": "#8db8e6", "domainWidth": 2, "ticks": false, "labels": false, "grid": false, "title": null}}}}
 ],
 "resolve": {"axis": {"x": "independent", "y": "independent"}}
}
]
}
